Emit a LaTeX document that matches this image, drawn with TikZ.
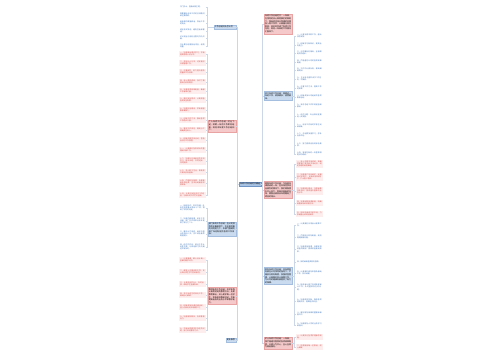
\documentclass[tikz,border=0pt]{standalone}
\usepackage{fontspec}
\setmainfont{Noto Sans CJK SC}
\XeTeXlinebreaklocale "zh"
\XeTeXlinebreakskip=0pt plus 1pt
\usetikzlibrary{positioning, calc}

\definecolor{rootfill}{HTML}{A9C3E4}
\definecolor{rootline}{HTML}{6F95C7}
\definecolor{bluefill}{HTML}{CADBEF}
\definecolor{blueline}{HTML}{A3BEDF}
\definecolor{pinkfill}{HTML}{F5C9C9}
\definecolor{pinkline}{HTML}{E9A3A3}
\definecolor{kidbluetext}{HTML}{3B73B9}
\definecolor{kidpinktext}{HTML}{D4514D}
\definecolor{kidpinkfill}{HTML}{FDEDED}
\definecolor{linkcolor}{HTML}{CBD6E6}

\begin{document}
\begin{tikzpicture}[
    x=1pt, y=-1pt,
    root/.style={
        rectangle,
        draw=rootline,
        fill=rootfill,
        line width=0.3pt,
        inner sep=1pt,
        font=\fontsize{2}{2.6}\selectfont
    },
    mainblue/.style={
        rectangle,
        draw=blueline,
        fill=bluefill,
        line width=0.3pt,
        text width=26pt,
        align=left,
        inner sep=1pt,
        font=\fontsize{2}{2.6}\selectfont
    },
    mainpink/.style={
        mainblue,
        draw=pinkline,
        fill=pinkfill
    },
    kidblue/.style={
        rectangle,
        fill=white,
        text=kidbluetext,
        text width=25pt,
        align=left,
        inner sep=0.8pt,
        font=\fontsize{1.8}{2.3}\selectfont
    },
    kidpink/.style={
        kidblue,
        fill=kidpinkfill,
        text=kidpinktext
    },
    link/.style={draw=linkcolor, line width=0.4pt}
]
    \useasboundingbox [fill=white] (0,0) rectangle (500,360);

    \coordinate (cl) at (237.5,0);
    \coordinate (cr) at (262.5,0);
    \coordinate (lspine) at (207,0);
    \coordinate (rspine) at (294.5,0);

    \node (root) [root] at (250,184) {年终工作总结范文精选};

    % left branches
    \node (la) [mainblue, anchor=east, text width=20pt] at (236,27) {工作总结开头怎么写};
    \node (lb) [mainpink, anchor=east] at (236,126) {个人年终工作总结：时光飞逝，转眼一年的工作即将结束，现将本年度工作总结如下。};
    \node (lc) [mainblue, anchor=east] at (236,229) {部门年终工作总结：在公司领导的正确带领下，在全体同事的共同努力下，本部门圆满完成了年初制定的各项工作目标。};
    \node (ld) [mainpink, anchor=east] at (236,296) {教师年终工作总结：本学年我认真贯彻党的教育方针，热爱教育事业，关心爱护每一位学生，积极参加教研活动，不断提高自身的业务水平和教学能力。};
    \node (le) [mainblue, anchor=east, text width=8pt] at (236,340) {更多推荐};

    % right branches
    \node (ra) [mainpink, anchor=west] at (264,24) {年终工作总结范文：一年来，在领导的关心和同事们的帮助下，我始终坚持以饱满的热情投入到工作中，认真履行岗位职责，较好地完成了各项工作任务，现将一年来的工作情况汇报如下。};
    \node (rb) [mainblue, anchor=west] at (264,96) {员工年终工作总结：回顾这一年的工作，收获颇多，感受颇深。};
    \node (rc) [mainpink, anchor=west] at (264,190) {销售年终工作总结：今年是充满挑战的一年，在市场竞争日益激烈的情况下，我们销售团队齐心协力，积极开拓新的市场，销售业绩较去年同期有了明显的增长。};
    \node (rd) [mainblue, anchor=west] at (264,276) {财务年终工作总结：本年度财务部在公司领导的指导下，严格执行财务制度，加强资金管理，认真做好会计核算工作，为公司的健康发展提供了有力的保障。};
    \node (re) [mainpink, anchor=west] at (264,343) {护士年终工作总结：一年来，我严格遵守医院的各项规章制度，以病人为中心，全心全意为患者服务。};

    \foreach \n in {la, lb, lc, ld, le}
        \draw [link] (root.west) -- (root.west -| cl) |- (\n.east);
    \foreach \n in {ra, rb, rc, rd, re}
        \draw [link] (root.east) -- (root.east -| cr) |- (\n.west);

    % left leaves
    \foreach \y/\txt [count=\i] in {
        7/{开门见山，直接点明主题。},
        15/{简要概括全年工作的总体情况和主要成绩。},
        23/{用具体的数据说话，突出工作的亮点。},
        31/{语言朴实简洁，避免空话和套话。},
        38/{可以适当引用名言警句作为开篇。},
        46/{开头要与结尾前后呼应，结构完整。}} {
        \node (a\i) [kidblue, anchor=east] at (206,\y) {\txt};
        \draw [link] (la.west) -- (la.west -| lspine) |- (a\i.east);
    }
    \foreach \y/\txt [count=\i] in {
        54/{一、加强政治理论学习，不断提高思想认识水平。},
        63/{二、坚持以人为本，切实做好日常管理工作。},
        72/{三、注重细节，努力提升服务质量和工作效率。},
        82/{四、深入基层调研，及时了解群众的实际需求。},
        91/{五、完善各项规章制度，确保工作有章可循。},
        100/{六、强化安全意识，认真排查各类安全隐患。},
        110/{七、加强队伍建设，不断增强集体凝聚力。},
        120/{八、创新工作方法，推动各项工作稳步开展。},
        130/{九、落实工作责任，做到分工明确责任到人。},
        140/{十、积极开展宣传活动，营造良好的工作氛围。},
        150/{十一、认真做好各类资料的整理和归档工作。},
        161/{十二、加强与兄弟单位的交流学习，取长补短，共同进步，共同提高。},
        172/{十三、关心职工生活，帮助职工解决实际困难。},
        183/{十四、严格财务管理，合理使用各项经费，坚决杜绝铺张浪费现象。},
        195/{十五、认真总结全年工作经验，为明年的工作打好基础。}} {
        \node (b\i) [kidpink, anchor=east] at (206,\y) {\txt};
        \draw [link] (lb.west) -- (lb.west -| lspine) |- (b\i.east);
    }
    \foreach \y/\txt [count=\i] in {
        208/{一、团结协作，攻坚克难，全年共完成重点项目十二项，得到了领导的肯定。},
        221/{二、加强内部管理，优化工作流程，部门工作效率比去年提高了百分之二十。},
        234/{三、重视人才培养，组织开展业务培训八次，员工综合素质明显提升。},
        247/{四、存在的不足：部分工作计划性不强，与其他部门的沟通还不够及时。}} {
        \node (c\i) [kidblue, anchor=east] at (206,\y) {\txt};
        \draw [link] (lc.west) -- (lc.west -| lspine) |- (c\i.east);
    }
    \foreach \y/\txt [count=\i] in {
        260/{一、认真备课，精心设计每一堂课的教学环节。},
        272/{二、课堂上注重启发引导，充分调动学生学习的积极性。},
        284/{三、认真批改作业，及时反馈，帮助学生查漏补缺。},
        295/{四、关注后进生的转化工作，做到耐心细致。},
        307/{五、积极参加听课评课活动，虚心向其他老师请教学习。},
        318/{六、加强家校联系，形成教育合力。},
        330/{七、不断反思教学中存在的问题，努力改进教学方法。}} {
        \node (d\i) [kidpink, anchor=east] at (206,\y) {\txt};
        \draw [link] (ld.west) -- (ld.west -| lspine) |- (d\i.east);
    }

    % right leaves
    \foreach \y/\txt [count=\i] in {
        36/{一、认真完成本职工作，服从领导安排。},
        45/{二、积极学习新知识，提高业务能力。},
        53/{三、与同事友好相处，互相帮助共同进步。},
        62/{四、严格遵守公司的各项规章制度。},
        70/{五、工作中认真负责，做到细致周到。},
        79/{六、主动承担额外的工作任务，不推诿。},
        88/{七、注重工作方法，提高工作的效率。},
        97/{八、积极参加公司组织的各项集体活动。},
        106/{九、及时总结工作中的经验和教训。},
        116/{十、存在问题：专业知识还需进一步加强。},
        126/{十一、对待工作有时不够主动和积极。},
        135/{十二、今后要加强学习，弥补自身不足。},
        145/{十三、努力提高自身的综合素质。},
        154/{十四、争取在新的一年里取得更好的成绩。}} {
        \node (f\i) [kidblue, anchor=west] at (296,\y) {\txt};
        \draw [link] (rb.east) -- (rb.east -| rspine) |- (f\i.west);
    }
    \foreach \y/\txt [count=\i] in {
        164/{一、深入开展市场调研，准确把握客户需求和市场动态，制定合理的销售策略。},
        177/{二、加强客户关系维护，定期回访老客户，积极发展新客户，扩大客户群体。},
        191/{三、加强团队建设，开展销售技能培训，提高团队整体的业务水平。},
        203/{四、完善销售管理制度，明确销售目标和考核办法。},
        214/{五、明年将继续开拓市场，力争销售业绩再创新高。}} {
        \node (g\i) [kidpink, anchor=west] at (296,\y) {\txt};
        \draw [link] (rc.east) -- (rc.east -| rspine) |- (g\i.west);
    }
    \foreach \y/\txt [count=\i] in {
        225/{一、认真做好日常会计核算工作。},
        237/{二、严格执行财务制度，规范费用报销流程。},
        249/{三、加强资金管理，合理安排资金的使用，提高资金使用效率。},
        262/{四、按时编制各类财务报表。},
        273/{五、认真做好税务申报及缴纳工作，依法纳税。},
        287/{六、配合审计部门完成年度审计工作，及时整改存在的问题。},
        301/{七、加强成本控制，降低各项费用开支，提高经济效益。},
        314/{八、做好财务档案的整理和保管工作。},
        325/{九、加强财务人员的业务学习和培训。}} {
        \node (h\i) [kidblue, anchor=west] at (296,\y) {\txt};
        \draw [link] (rd.east) -- (rd.east -| rspine) |- (h\i.west);
    }
    \foreach \y/\txt [count=\i] in {
        337/{一、认真执行各项护理操作规程。},
        347/{二、热情接待每一位患者，耐心细致。}} {
        \node (k\i) [kidpink, anchor=west] at (296,\y) {\txt};
        \draw [link] (re.east) -- (re.east -| rspine) |- (k\i.west);
    }

\end{tikzpicture}
\end{document}
